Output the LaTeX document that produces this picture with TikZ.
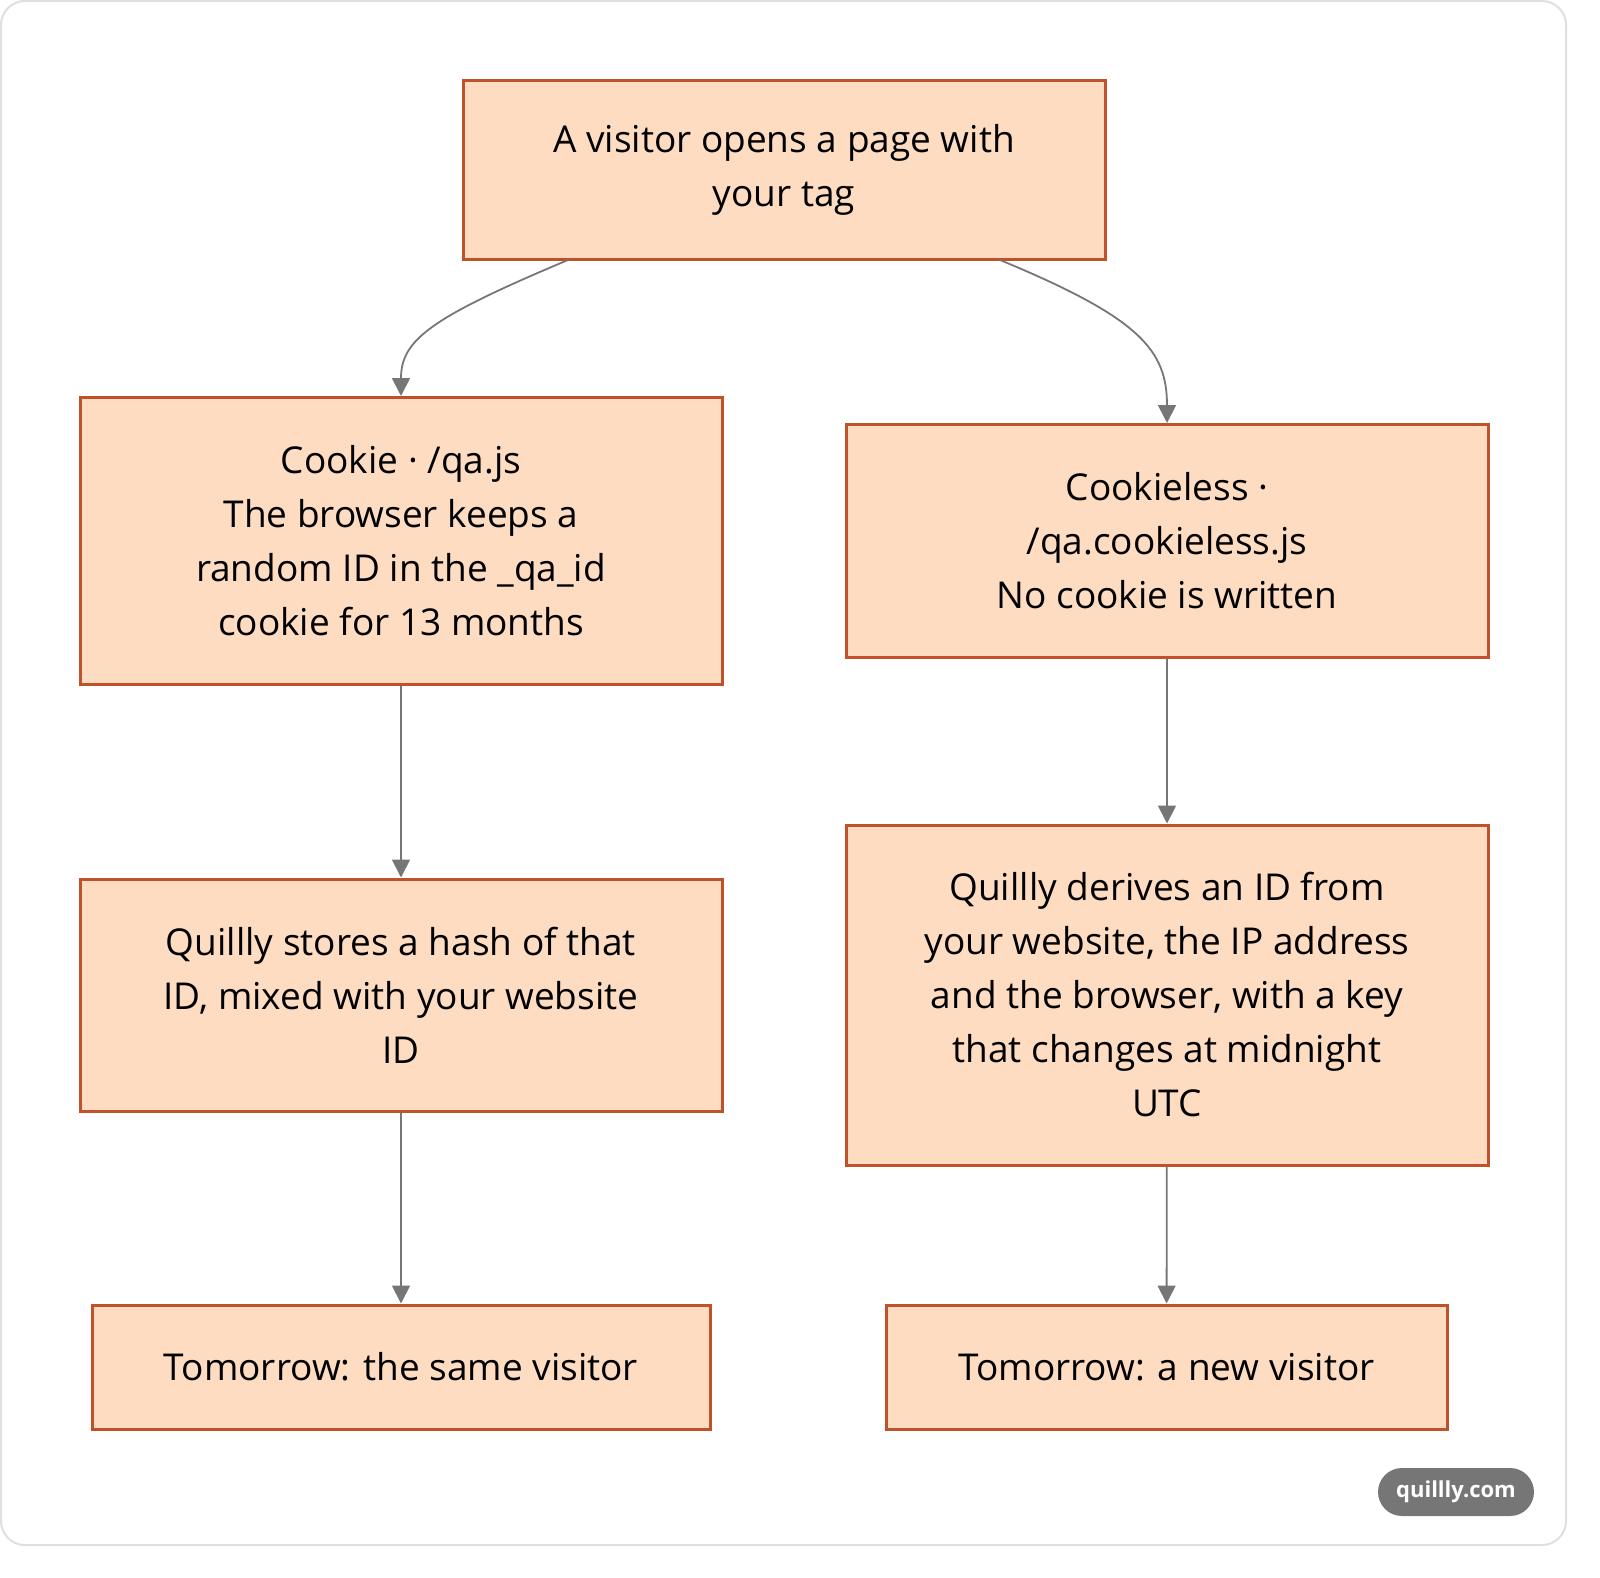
\documentclass[tikz,border=0pt]{standalone}
\usepackage{fontspec}
\setmainfont{Open Sans}
\usetikzlibrary{positioning,arrows.meta}
\definecolor{boxfill}{HTML}{FDDCC2}
\definecolor{boxdraw}{HTML}{C0522B}
\definecolor{arrowgray}{HTML}{767676}
\tikzset{
  stage/.style={draw=boxdraw,fill=boxfill,line width=1.5pt,align=center,
    font=\fontsize{18.5}{27}\selectfont,inner sep=0pt},
  flow/.style={draw=arrowgray,line width=0.9pt,-{Triangle[length=9pt,width=9pt]}}
}
\begin{document}
\begin{tikzpicture}[x=0.5pt,y=-0.5pt]
	\useasboundingbox (0,0) rectangle (1600,1578);
	\draw[gray!25,line width=1pt,rounded corners=12pt] (1,1) rectangle (1566,1545);
	\node[stage,minimum width=321pt,minimum height=89.5pt] (visit) at (784,170) {A visitor opens a page with\\your tag};
	\node[stage,minimum width=321pt,minimum height=143.5pt] (cookie) at (401,541) {Cookie · /qa.js\\The browser keeps a\\random ID in the \_qa\_id\\cookie for 13 months};
	\node[stage,minimum width=321pt,minimum height=116.5pt] (nocookie) at (1167,541) {Cookieless ·\\/qa.cookieless.js\\No cookie is written};
	\node[stage,minimum width=321pt,minimum height=116pt] (hash) at (401,995) {Quillly stores a hash of that\\ID, mixed with your website\\ID};
	\node[stage,minimum width=321pt,minimum height=170pt] (derive) at (1167,995) {Quillly derives an ID from\\your website, the IP address\\and the browser, with a key\\that changes at midnight\\UTC};
	\node[stage,minimum width=309pt,minimum height=62pt] (same) at (401,1367) {Tomorrow: the same visitor};
	\node[stage,minimum width=280.5pt,minimum height=62pt] (new) at (1166.5,1367) {Tomorrow: a new visitor};
	\node[fill=arrowgray,text=white,rounded corners=12pt,minimum width=78pt,minimum height=24pt,
	  font=\fontsize{11}{13}\selectfont\bfseries] (badge) at (1456,1492) {quillly.com};
	\coordinate (vl) at (568,260);
	\coordinate (vr) at (1000,260);
	\draw[flow] (vl) .. controls (430,318) and (401,340) .. (cookie.north);
	\draw[flow] (vr) .. controls (1140,318) and (1167,350) .. (nocookie.north);
	\draw[flow] (cookie) -- (hash);
	\draw[flow] (hash) -- (same);
	\draw[flow] (nocookie) -- (derive);
	\draw[flow] (derive) -- (new);
\end{tikzpicture}
\end{document}
